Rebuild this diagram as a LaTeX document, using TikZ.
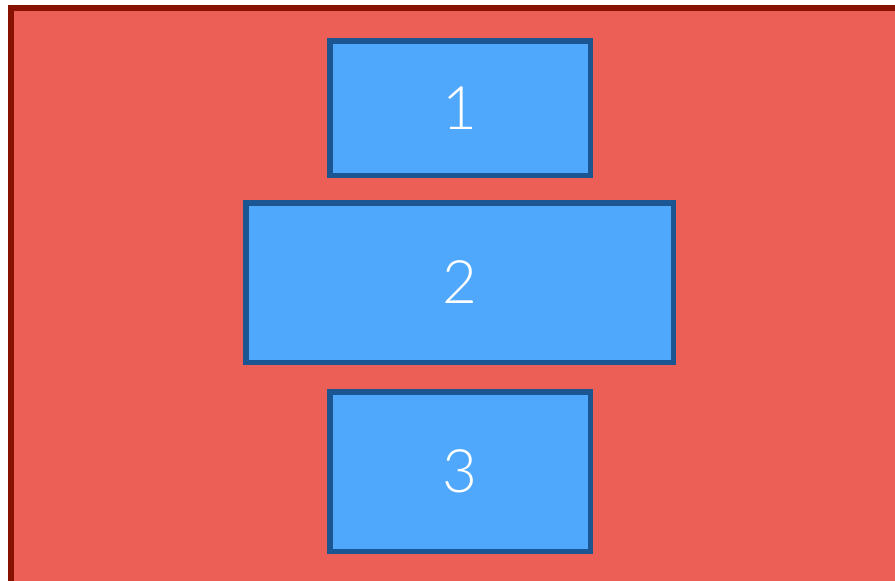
\documentclass[tikz,border=0pt]{standalone}
\usepackage{fontspec}
\newfontfamily\digitfont{Lato Light}

\definecolor{bgred}{HTML}{EC5F57}
\definecolor{bgedge}{HTML}{881200}
\definecolor{boxblue}{HTML}{50A8FC}
\definecolor{boxedge}{HTML}{1B5592}

\tikzset{
    panel/.style={fill=bgred, draw=bgedge, line width=5.5pt},
    box/.style={rectangle, fill=boxblue, draw=boxedge, line width=5.5pt,
        text=white, font=\digitfont\fontsize{60}{60}\selectfont, inner sep=0pt}
}

\begin{document}
\begin{tikzpicture}[x=1pt, y=-1pt]
    \useasboundingbox (0,0) rectangle (895,581);
    \clip (0,0) rectangle (895,581);

    % draw background
    \draw [panel] (10.75,7.75) rectangle (920,600);

    % draw boxes
    \foreach [count=\i] \x/\y/\w/\h in {460/108/260.5/134.5, 459.5/282.5/427.5/159.5, 460/471.5/260.5/159.5}
        \node [box, minimum width=\w pt, minimum height=\h pt]
            (b\i) at (\x, \y) {\i};

\end{tikzpicture}
\end{document}
